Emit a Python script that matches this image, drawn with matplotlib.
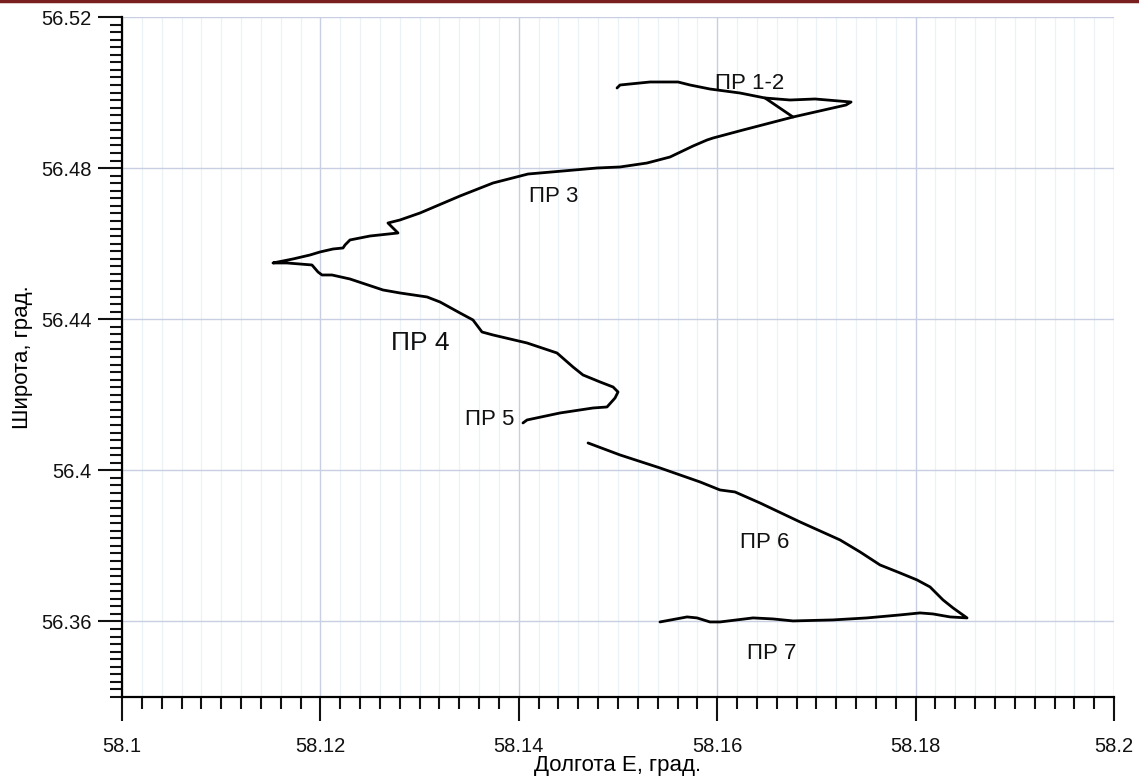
import matplotlib

matplotlib.use("Agg")
import matplotlib.pyplot as plt
import numpy as np
from matplotlib.lines import Line2D
from matplotlib.ticker import MultipleLocator

plt.rcParams["font.family"] = ["Liberation Sans", "DejaVu Sans"]

# track 1: ПР 1-2 ... ПР 5
lon_a = [58.14990, 58.15020, 58.15121, 58.15323, 58.15605, 58.15726, 58.15927, 58.16230,
         58.16482, 58.16734, 58.16986, 58.17349, 58.17298, 58.16764, 58.16260, 58.15958,
         58.15897, 58.15756, 58.15524, 58.15292, 58.15020, 58.14788, 58.14446, 58.14093,
         58.13740, 58.13407, 58.13004, 58.12802, 58.12681, 58.12782, 58.12500, 58.12298,
         58.12248, 58.12228, 58.12127, 58.11996, 58.11895, 58.11724, 58.11522, 58.11663,
         58.11915, 58.11976, 58.12016, 58.12117, 58.12298, 58.12631, 58.12802, 58.13075,
         58.13206, 58.13407, 58.13538, 58.13629, 58.13740, 58.14083, 58.14385, 58.14546,
         58.14647, 58.14819, 58.14950, 58.15000, 58.14970, 58.14889, 58.14748, 58.14415,
         58.14083, 58.14042]
lat_a = [56.50121, 56.50200, 56.50227, 56.50280, 56.50280, 56.50200, 56.50094, 56.49988,
         56.49856, 56.49803, 56.49830, 56.49750, 56.49671, 56.49353, 56.49009, 56.48797,
         56.48744, 56.48585, 56.48294, 56.48135, 56.48030, 56.48003, 56.47924, 56.47844,
         56.47606, 56.47262, 56.46812, 56.46627, 56.46547, 56.46283, 56.46203, 56.46098,
         56.45965, 56.45886, 56.45859, 56.45780, 56.45700, 56.45595, 56.45489, 56.45489,
         56.45436, 56.45250, 56.45171, 56.45171, 56.45065, 56.44774, 56.44695, 56.44589,
         56.44456, 56.44165, 56.43980, 56.43662, 56.43583, 56.43371, 56.43106, 56.42736,
         56.42524, 56.42339, 56.42206, 56.42074, 56.41915, 56.41677, 56.41650, 56.41518,
         56.41333, 56.41254]

# short link inside the ПР 1-2 loop
lon_link = [58.16482, 58.16764]
lat_link = [56.49856, 56.49353]

# track 2: ПР 6 ... ПР 7
lon_b = [58.14698, 58.15020, 58.15423, 58.15827, 58.16028, 58.16179, 58.16431, 58.16835,
         58.17238, 58.17440, 58.17641, 58.17843, 58.18014, 58.18145, 58.18276, 58.18377,
         58.18518, 58.18347, 58.18175, 58.18044, 58.17843, 58.17510, 58.17167, 58.16764,
         58.16562, 58.16361, 58.16028, 58.15927, 58.15796, 58.15696, 58.15423]
lat_b = [56.40724, 56.40407, 56.40063, 56.39692, 56.39480, 56.39427, 56.39136, 56.38633,
         56.38157, 56.37839, 56.37495, 56.37283, 56.37098, 56.36913, 56.36569, 56.36357,
         56.36093, 56.36119, 56.36198, 56.36225, 56.36172, 56.36093, 56.36040, 56.36013,
         56.36066, 56.36093, 56.35986, 56.35986, 56.36093, 56.36119, 56.35986]

label_text = ["ПР 1-2", "ПР 3", "ПР 4", "ПР 5", "ПР 6", "ПР 7"]
label_lon = [58.16330, 58.14355, 58.13004, 58.13710, 58.16482, 58.16552]
label_lat = [56.50253, 56.47236, 56.43371, 56.41333, 56.38077, 56.35139]
label_size = [16, 16, 19, 16, 16, 16]

fig = plt.figure(figsize=(11.39, 7.84), dpi=100)
ax = fig.add_axes([0.1071, 0.1110, 0.8710, 0.8673])

ax.set_xlim(58.1, 58.2)
ax.set_ylim(56.34, 56.52)

ax.xaxis.set_major_locator(MultipleLocator(0.02))
ax.xaxis.set_minor_locator(MultipleLocator(0.002))
ax.yaxis.set_major_locator(MultipleLocator(0.04))
ax.yaxis.set_minor_locator(MultipleLocator(0.002))

ax.xaxis.set_major_formatter(lambda v, p: f"{v:.2f}".rstrip("0"))
ax.yaxis.set_major_formatter(lambda v, p: f"{v:.2f}".rstrip("0"))

ax.grid(which="minor", axis="x", color="#eaf2f6", lw=0.9)
ax.grid(which="major", axis="both", color="#c9cfe2", lw=1.0)
ax.set_axisbelow(True)

for s in ["top", "right"]:
    ax.spines[s].set_visible(False)
for s in ["left", "bottom"]:
    ax.spines[s].set_linewidth(1.6)

ax.tick_params(which="major", direction="out", length=17, width=1.5, labelsize=14.5,
               colors="#111111")
ax.tick_params(axis="x", which="major", pad=12)
ax.tick_params(axis="y", which="major", pad=5)
ax.tick_params(which="minor", direction="out", length=8.5, width=1.5, colors="#111111")

ax.plot(lon_a, lat_a, color="black", lw=2.0, solid_joinstyle="round", solid_capstyle="round")
ax.plot(lon_link, lat_link, color="black", lw=2.0, solid_capstyle="round")
ax.plot(lon_b, lat_b, color="black", lw=2.0, solid_joinstyle="round", solid_capstyle="round")

for t, x, y, fs in zip(label_text, label_lon, label_lat, label_size):
    ax.text(x, y, t, fontsize=fs, ha="center", va="center", color="#111111")

ax.set_xlabel("Долгота E, град.", fontsize=16, labelpad=-1)
ax.set_ylabel("Широта, град.", fontsize=16, labelpad=6)

# thin dark red rule along the top edge
fig.add_artist(Line2D([0, 1], [0.999, 0.999], transform=fig.transFigure,
                      color="#7a1f1f", lw=2.5))

fig.savefig("out.png", dpi=100)
